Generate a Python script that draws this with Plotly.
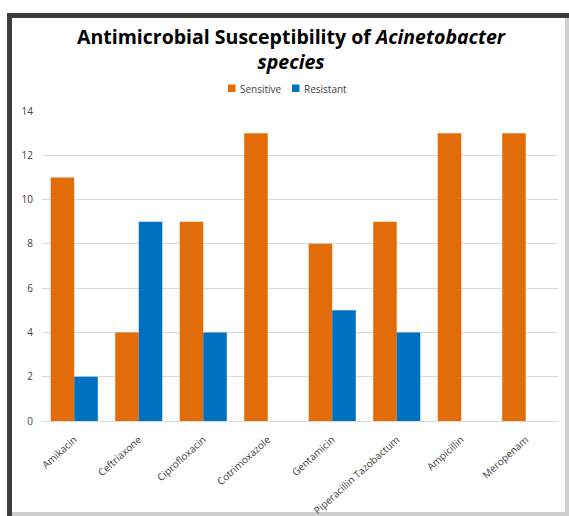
import plotly.graph_objects as go

# Antibiotics tested and isolate counts per outcome
antibiotics = ["Amikacin", "Ceftriaxone", "Ciprofloxacin", "Cotrimoxazole",
               "Gentamicin", "Piperacillin Tazobactum", "Ampicillin", "Meropenam"]
sensitive = [11, 4, 9, 13, 8, 9, 13, 13]
resistant = [2, 9, 4, 0, 5, 4, 0, 0]
y_ticks = [0, 2, 4, 6, 8, 10, 12, 14]

series_names = ["Sensitive", "Resistant"]
series_colors = ["#E36C0A", "#0070C0"]

W, H = 569, 516
ML, MR, MT, MB = 42, 11, 111, 95
PW, PH = W - ML - MR, H - MT - MB


def px_x(x):
    return (x - ML) / PW


def px_y(y):
    return (H - MB - y) / PH


fig = go.Figure()
for name, vals, col in zip(series_names, [sensitive, resistant], series_colors):
    fig.add_trace(go.Bar(name=name, x=antibiotics, y=vals, showlegend=False,
                         marker=dict(color=col, line=dict(width=0))))


def rect(x0, y0, x1, y1, color):
    return dict(type="rect", xref="paper", yref="paper", layer="below",
                x0=px_x(x0), x1=px_x(x1), y0=px_y(y1), y1=px_y(y0),
                fillcolor=color, line=dict(width=0))


# framed chart card with a dark shadow on the top and left edges
shapes = [
    rect(7, 13, 569, 516, "#cfcfcf"),
    rect(7, 13, 569, 18, "#3c3c3c"),
    rect(7, 13, 12, 516, "#3c3c3c"),
    rect(12, 18, 565, 512, "#ffffff"),
]

# legend: small colour swatches followed by their labels
annotations = []
legend_x = [228, 292]
for lx, name, col in zip(legend_x, series_names, series_colors):
    shapes.append(dict(type="rect", xref="paper", yref="paper", layer="above",
                       x0=px_x(lx), x1=px_x(lx + 7.5), y0=px_y(92), y1=px_y(84.5),
                       fillcolor=col, line=dict(width=0)))
    annotations.append(dict(text=name, xref="paper", yref="paper",
                            x=px_x(lx + 10), y=px_y(88.5), xanchor="left",
                            yanchor="middle", showarrow=False,
                            font=dict(family="Open Sans", size=10, color="#404040")))

# two-line title
annotations.append(dict(
    text="<b>Antimicrobial Susceptibility of <i>Acinetobacter</i><br><i>species</i></b>",
    xref="paper", yref="paper", x=px_x(291), y=px_y(49),
    xanchor="center", yanchor="middle", showarrow=False,
    font=dict(family="Open Sans", size=19.5, color="#000000")))

fig.update_layout(
    width=W, height=H,
    margin=dict(l=ML, r=MR, t=MT, b=MB, autoexpand=False),
    paper_bgcolor="#ffffff", plot_bgcolor="rgba(0,0,0,0)",
    barmode="group", bargap=0.27, bargroupgap=0,
    shapes=shapes, annotations=annotations,
    showlegend=False,
    font=dict(family="Open Sans", color="#404040"),
    xaxis=dict(tickangle=-42, tickfont=dict(size=10, color="#404040"),
               showline=True, linecolor="#d9d9d9", linewidth=1,
               ticks="", showgrid=False, ticklabelstandoff=8, automargin=False),
    yaxis=dict(range=[0, 14], tickvals=y_ticks,
               tickfont=dict(size=10, color="#404040"),
               showgrid=True, gridcolor="#d9d9d9", gridwidth=1,
               zeroline=False, showline=False, ticklabelstandoff=8,
               automargin=False),
)

fig.write_html("out.html")
